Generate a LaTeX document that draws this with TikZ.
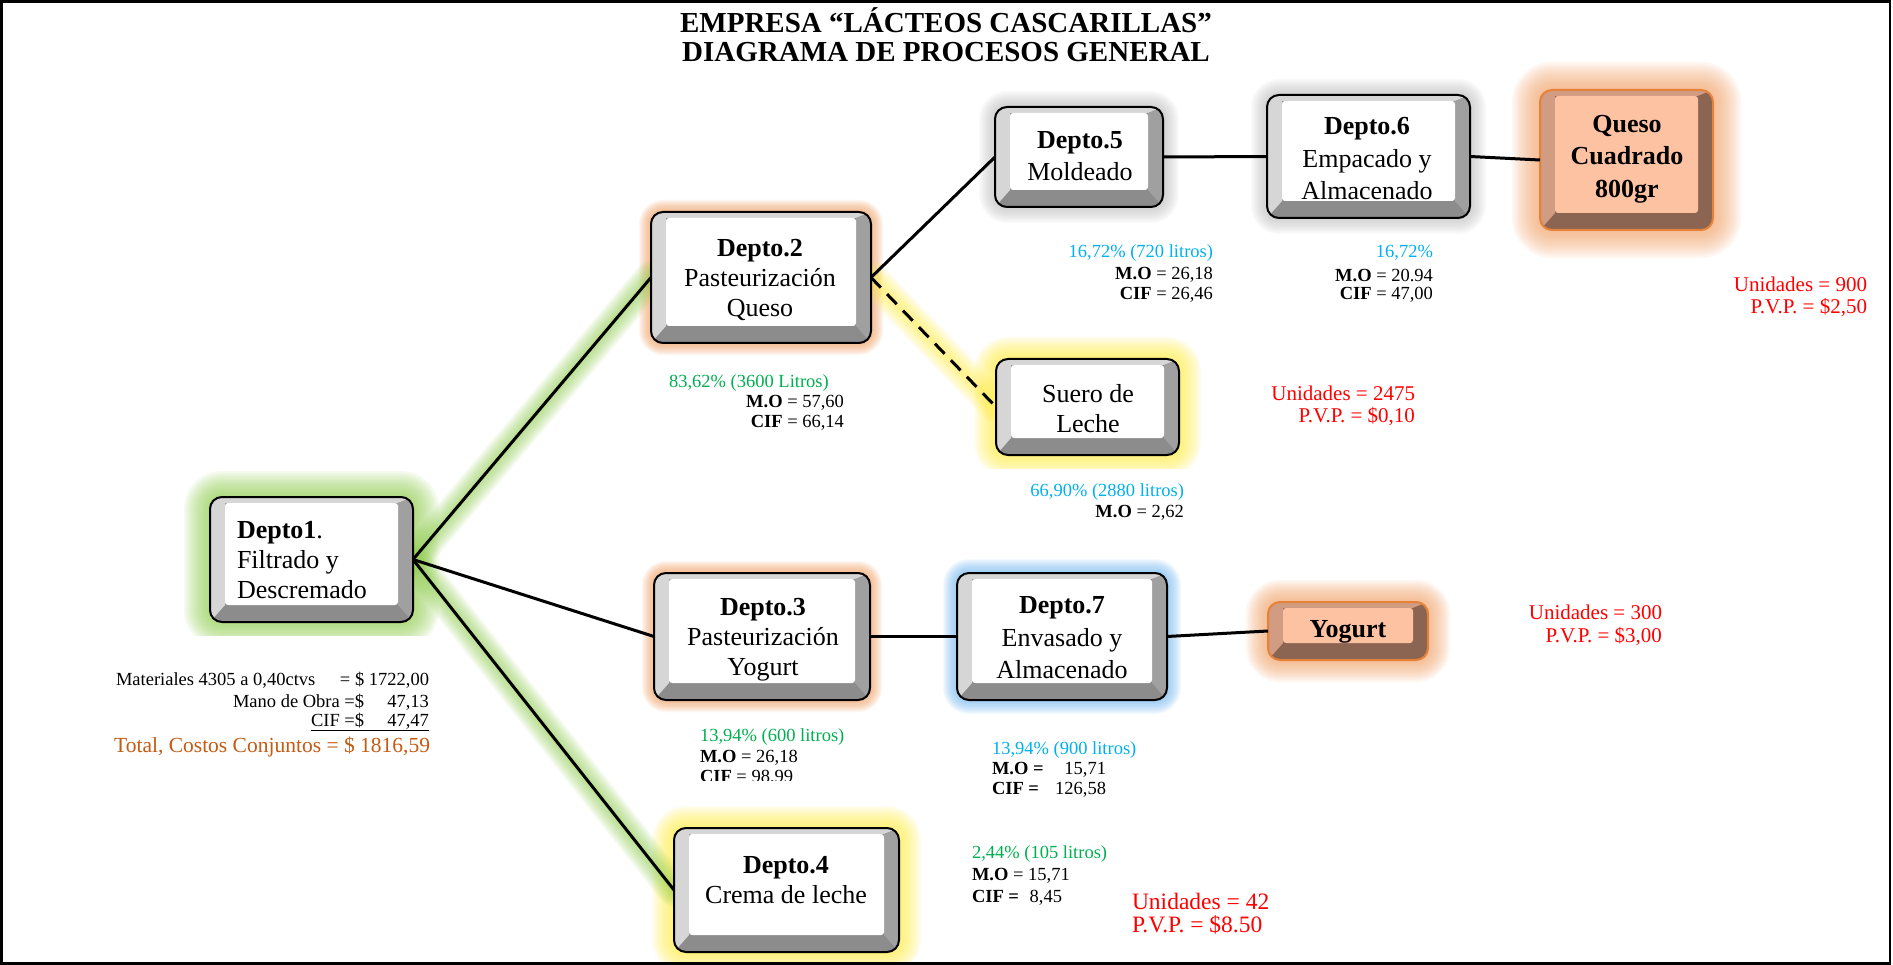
\documentclass[tikz,border=0pt]{standalone}
\usepackage{fontspec}
\setmainfont{Liberation Serif}
\pgfdeclarelayer{bg}
\pgfsetlayers{bg,main}
\definecolor{gtxt}{HTML}{00B050}
\definecolor{ctxt}{HTML}{00B0F0}
\definecolor{rtxt}{HTML}{FF0000}
\definecolor{ttxt}{HTML}{C55A11}
\definecolor{glgreen}{HTML}{92D050}
\definecolor{glorange}{HTML}{F6A86E}
\definecolor{glyellow}{HTML}{FFF04A}
\definecolor{glblue}{HTML}{7FBFF5}
\definecolor{glgray}{HTML}{B4B4B4}
\definecolor{bvdark}{HTML}{8C8C8C}
\definecolor{bvright}{HTML}{A0A0A0}
\definecolor{bvlight}{HTML}{D6D6D6}
\definecolor{obdark}{HTML}{8C6552}
\definecolor{oblight}{HTML}{D29C83}
\definecolor{obface}{HTML}{FDC2A2}
\definecolor{obline}{HTML}{E5823A}
\newcommand\bfnt{\fontsize{26}{30}\selectfont}
\newcommand\bfntw{\fontsize{26}{32.5}\selectfont}
\newcommand\dfnt{\fontsize{18.5}{20.5}\selectfont}
\newcommand\rfnt{\fontsize{21}{24}\selectfont}
\newcommand\tfnt{\fontsize{29}{29.5}\selectfont\bfseries}
\tikzset{
  g-dark/.style={fill=bvdark}, g-right/.style={fill=bvright}, g-light/.style={fill=bvlight},
  g-face/.style={fill=white}, g-line/.style={draw=black, line width=2pt},
  o-dark/.style={fill=obdark}, o-right/.style={fill=obdark}, o-light/.style={fill=oblight},
  o-face/.style={fill=obface}, o-line/.style={draw=obline, line width=2pt},
  conn/.style={draw=black, line width=3pt},
  dashconn/.style={conn, dash pattern=on 14pt off 9pt},
  dat/.style={font=\dfnt, text=black},
  gtx/.style={font=\dfnt, text=gtxt},
  ctx/.style={font=\dfnt, text=ctxt},
  rtx/.style={font=\rfnt, text=rtxt},
  btx/.style={font=\bfnt, align=center},
  btxw/.style={font=\bfntw, align=center},
}
\newcommand\bevelbox[6]{%
  \fill[#6-dark, rounded corners=12pt] (#2,#3) rectangle (#4,#5);
  \begin{scope}
    \clip[rounded corners=12pt] (#2,#3) rectangle (#4,#5);
    \fill[#6-light] (#2,#3) -- (#4,#3) -- ({#4-15},{#3+6}) -- ({#2+15},{#3+6}) -- ({#2+15},{#5-17}) -- (#2,#5) -- cycle;
    \fill[#6-right] (#4,#3) -- ({#4-15},{#3+6}) -- ({#4-15},{#5-17}) -- (#4,#5) -- cycle;
  \end{scope}
  \fill[#6-face, rounded corners=3pt] ({#2+15},{#3+6}) rectangle ({#4-15},{#5-17});
  \draw[#6-line, rounded corners=12pt] (#2,#3) rectangle (#4,#5);
  \node[minimum width={(#4-#2)*1pt}, minimum height={(#5-#3)*1pt}] (#1) at ({(#2+#4)/2},{(#3+#5)/2}) {};
}
% #7 = opacity per layer
\newcommand\boxglow[7]{%
  \foreach \k in {1,...,12}{%
    \pgfmathsetmacro\dd{\k*#6/12}%
    \pgfmathsetmacro\rr{12+\dd}%
    \fill[#5, opacity=#7, rounded corners=\rr pt] ({#1-\dd},{#2-\dd}) rectangle ({#3+\dd},{#4+\dd});
  }}
\newcommand\lineglow[3]{%
  \foreach \w in {3,6,...,33}{%
    \draw[#3, opacity=0.08, line width=\w pt, line cap=round] (#1) -- (#2);
  }}
\begin{document}
\begin{tikzpicture}[x=1pt,y=-1pt, every node/.style={inner sep=0pt, outer sep=0pt}]
\useasboundingbox (0,0) rectangle (1893,965);

% background and glows
\begin{pgfonlayer}{bg}
  \fill[white] (0,0) rectangle (1893,965);
  \begin{scope}
    \clip (0,0) rectangle (1893,635);
    \boxglow{210}{497}{413}{622}{glgreen}{26}{0.085}
  \end{scope}
  \boxglow{651}{212}{871}{343}{glorange}{12}{0.09}
  \boxglow{995}{107}{1163}{207}{glgray}{16}{0.06}
  \boxglow{1267}{95}{1470}{218}{glgray}{16}{0.06}
  \boxglow{1540}{90}{1713}{230}{glorange}{28}{0.09}
  \begin{scope}
    \clip (0,0) rectangle (1893,468);
    \boxglow{996}{359}{1179}{455}{glyellow}{22}{0.09}
  \end{scope}
  \boxglow{654}{573}{870}{700}{glorange}{12}{0.09}
  \boxglow{957}{573}{1167}{700}{glblue}{14}{0.09}
  \boxglow{1268}{602}{1428}{660}{glorange}{22}{0.09}
  \boxglow{674}{828}{899}{952}{glyellow}{22}{0.09}
\end{pgfonlayer}

% title
\node[font=\tfnt, align=center] (title) at (946,34.5) {EMPRESA “LÁCTEOS CASCARILLAS”\\DIAGRAMA DE PROCESOS GENERAL};

% boxes
\bevelbox{d1}{210}{497}{413}{622}{g}
\bevelbox{d2}{651}{212}{871}{343}{g}
\bevelbox{d5}{995}{107}{1163}{207}{g}
\bevelbox{d6}{1267}{95}{1470}{218}{g}
\bevelbox{qc}{1540}{90}{1713}{230}{o}
\bevelbox{su}{996}{359}{1179}{455}{g}
\bevelbox{d3}{654}{573}{870}{700}{g}
\bevelbox{d7}{957}{573}{1167}{700}{g}
\bevelbox{yo}{1268}{602}{1428}{660}{o}
\bevelbox{d4}{674}{828}{899}{952}{g}

% box texts
\node[font=\bfnt, align=left, anchor=west] (d1t) at (237,560) {\textbf{Depto1}.\\Filtrado y\\Descremado};
\node[btx] (d2t) at (760,280) {\textbf{Depto.2}\\Pasteurización\\Queso};
\node[btxw] (d5t) at (1080,156) {\textbf{Depto.5}\\Moldeado};
\node[btxw] (d6t) at (1367,159) {\textbf{Depto.6}\\Empacado y\\Almacenado};
\node[btxw, font=\bfntw\bfseries] (qct) at (1627,159) {Queso\\Cuadrado\\800gr};
\node[btx] (sut) at (1088,409) {Suero de\\Leche};
\node[btx] (d3t) at (763,640) {\textbf{Depto.3}\\Pasteurización\\Yogurt};
\node[btxw] (d7t) at (1062,638) {\textbf{Depto.7}\\Envasado y\\Almacenado};
\node[btx, font=\bfnt\bfseries] (yot) at (1348,632) {Yogurt};
\node[btx] (d4t) at (786,880) {\textbf{Depto.4}\\Crema de leche};

% connector glows
\begin{pgfonlayer}{bg}
  \lineglow{d1.east}{d2.west}{glgreen}
  \lineglow{d1.east}{d4.west}{glgreen}
  \lineglow{d2.east}{su.west}{glyellow}
\end{pgfonlayer}

% connectors
\draw[conn] (d1.east) -- (d2.west);
\draw[conn] (d1.east) -- (d3.west);
\draw[conn] (d1.east) -- (d4.west);
\draw[conn] (d2.east) -- (d5.west);
\draw[dashconn] (d2.east) -- (su.west);
\draw[conn] (d5.east) -- (d6.west);
\draw[conn] (d6.east) -- (qc.west);
\draw[conn] (d3.east) -- (d7.west);
\draw[conn] (d7.east) -- (yo.west);

% Depto1 costs
\node[dat, anchor=east] (m1) at (429,680) {\makebox[313pt][s]{Materiales 4305 a 0,40ctvs\hfill= \$ 1722,00}};
\node[dat, anchor=east] (m2) at (429,702) {\makebox[196pt][s]{Mano de Obra =\$\hfill 47,13}};
\node[dat, anchor=east] (m3) at (429,722) {\underline{\makebox[118pt][s]{CIF =\$\hfill 47,47}}};
\node[font=\fontsize{21.5}{24}\selectfont, text=ttxt, anchor=east] (m4) at (430,747) {Total, Costos Conjuntos = \$ 1816,59};

% Depto2 data
\node[gtx, anchor=west] (a1) at (669,383) {83,62\% (3600 Litros)};
\node[dat, anchor=east] (a2) at (844,403) {\textbf{M.O} = 57,60};
\node[dat, anchor=east] (a3) at (844,423) {\textbf{CIF} = 66,14};

% Depto5 data
\node[ctx, anchor=east] (b1) at (1213,253) {16,72\% (720 litros)};
\node[dat, anchor=east] (b2) at (1213,275) {\textbf{M.O} = 26,18};
\node[dat, anchor=east] (b3) at (1213,295) {\textbf{CIF} = 26,46};

% Depto6 data
\node[ctx, anchor=east] (c1) at (1433,253) {16,72\%};
\node[dat, anchor=east] (c2) at (1433,275) {\textbf{M.O} = 20.94};
\node[dat, anchor=east] (c3) at (1433,295) {\textbf{CIF} = 47,00};

% Queso prices
\node[rtx, anchor=east] (q1) at (1867,284) {Unidades = 900};
\node[rtx, anchor=east] (q2) at (1867,308) {P.V.P. = \$2,50};

% Suero
\node[rtx, anchor=east] (s1) at (1415,393) {Unidades = 2475};
\node[rtx, anchor=east] (s2) at (1415,417) {P.V.P. = \$0,10};
\node[ctx, anchor=east] (s3) at (1184,492) {66,90\% (2880 litros)};
\node[dat, anchor=east] (s4) at (1184,513) {\textbf{M.O} = 2,62};

% Depto3 data
\node[gtx, anchor=west] (e1) at (700,737) {13,94\% (600 litros)};
\node[dat, anchor=west] (e2) at (700,758) {\textbf{M.O} = 26,18};
\begin{scope}
  \clip (690,768) rectangle (900,780);
  \node[dat, anchor=west] (e3) at (700,778) {\textbf{CIF} = 98,99};
\end{scope}

% Depto7 data
\node[ctx, anchor=west] (f1) at (992,750) {13,94\% (900 litros)};
\node[dat, anchor=west] (f2) at (992,770) {\makebox[114pt][s]{\textbf{M.O =}\hfill 15,71}};
\node[dat, anchor=west] (f3) at (992,790) {\makebox[114pt][s]{\textbf{CIF =}\hfill 126,58}};

% Yogurt prices
\node[rtx, anchor=east] (y1) at (1662,612) {Unidades = 300};
\node[rtx, anchor=east] (y2) at (1662,637) {P.V.P. = \$3,00};

% Depto4 data
\node[gtx, anchor=west] (h1) at (972,854) {2,44\% (105 litros)};
\node[dat, anchor=west] (h2) at (972,876) {\textbf{M.O} = 15,71};
\node[dat, anchor=west] (h3) at (972,898) {\makebox[90pt][s]{\textbf{CIF =}\hfill 8,45}};
\node[rtx, font=\fontsize{23.5}{26}\selectfont, anchor=west] (h4) at (1132,901) {Unidades = 42};
\node[rtx, font=\fontsize{23.5}{26}\selectfont, anchor=west] (h5) at (1132,925) {P.V.P. = \$8.50};

% frame
\draw[line width=2.5pt] (1.5,1.5) rectangle (1890,963.5);
\end{tikzpicture}
\end{document}
